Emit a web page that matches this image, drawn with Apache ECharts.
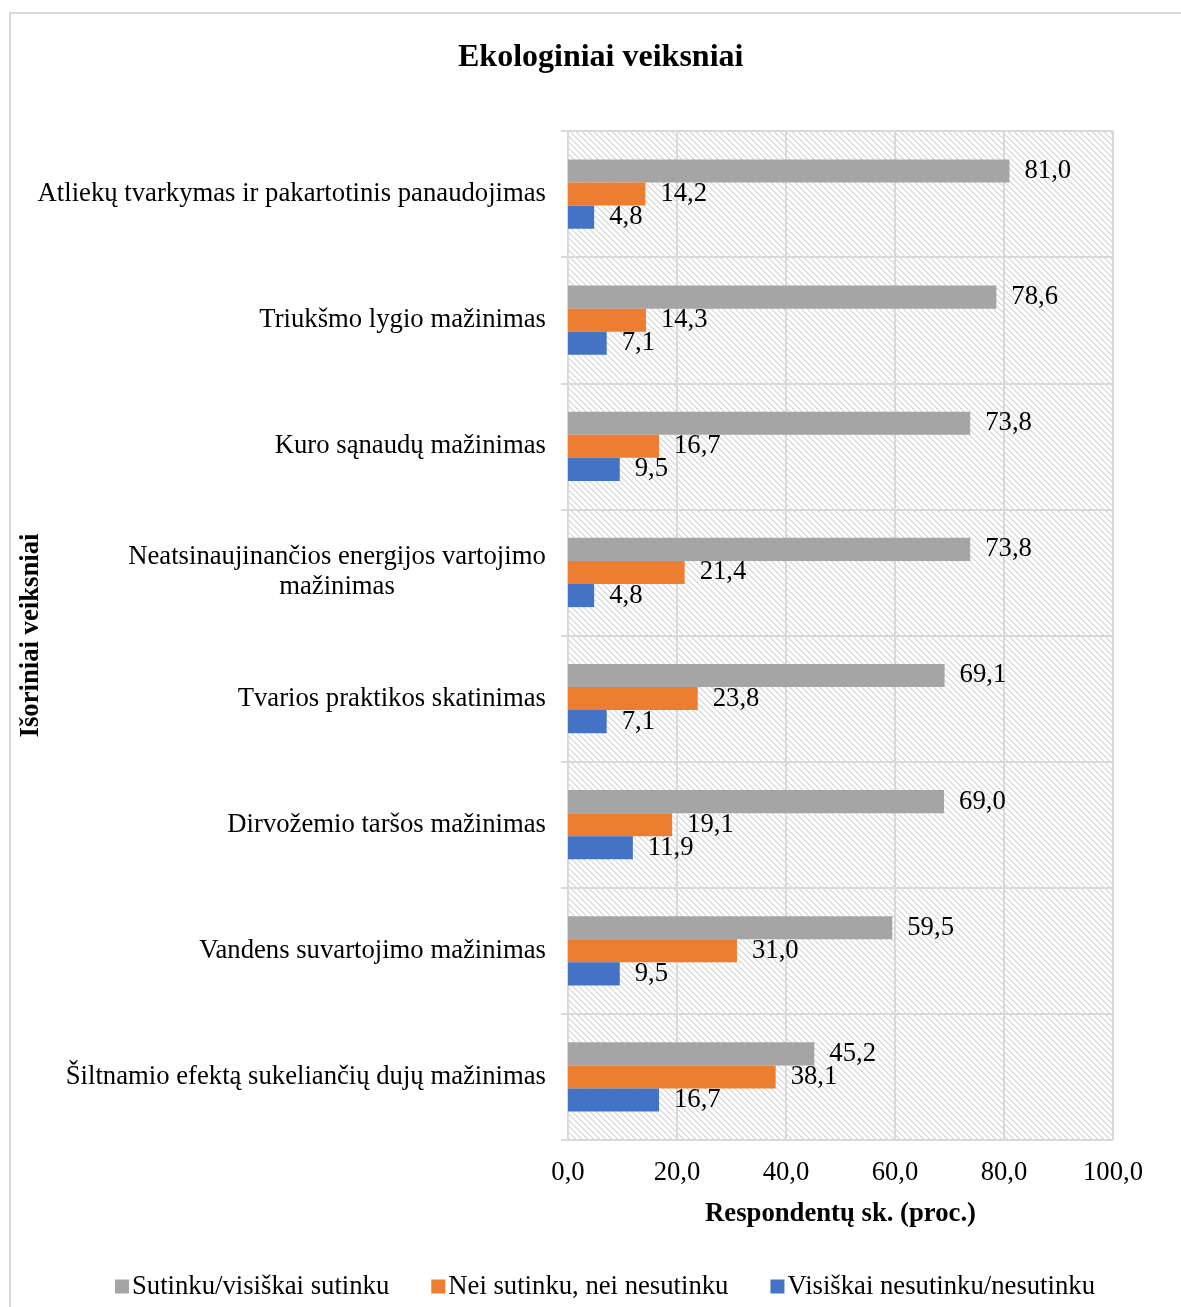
<!DOCTYPE html>
<html>
<head>
<meta charset="utf-8">
<script src="https://cdn.jsdelivr.net/npm/echarts@6/dist/echarts.min.js"></script>
<style>
  html, body { margin: 0; padding: 0; background: #fff; }
  #chart { width: 1181px; height: 1307px; }
</style>
</head>
<body>
<div id="chart"></div>
<script>
// Categories, top to bottom
const categories = [
  'Atliekų tvarkymas ir pakartotinis panaudojimas',
  'Triukšmo lygio mažinimas',
  'Kuro sąnaudų mažinimas',
  'Neatsinaujinančios energijos vartojimo\nmažinimas',
  'Tvarios praktikos skatinimas',
  'Dirvožemio taršos mažinimas',
  'Vandens suvartojimo mažinimas',
  'Šiltnamio efektą sukeliančių dujų mažinimas'
];
const seriesNames = [
  'Sutinku/visiškai sutinku',
  'Nei sutinku, nei nesutinku',
  'Visiškai nesutinku/nesutinku'
];
const agree = [81.0, 78.6, 73.8, 73.8, 69.1, 69.0, 59.5, 45.2];
const neutral = [14.2, 14.3, 16.7, 21.4, 23.8, 19.1, 31.0, 38.1];
const disagree = [4.8, 7.1, 9.5, 4.8, 7.1, 11.9, 9.5, 16.7];
const xTicks = [0, 20, 40, 60, 80, 100];

const colors = ['#A5A5A5', '#ED7D31', '#4472C4'];
const FONT = '"Liberation Serif", "Times New Roman", serif';
const FS = 26.7;
const fmt = v => Number(v).toFixed(1).replace('.', ',');

// Light dotted diagonal hatch for the plot area
function hatch() {
  const n = 6;
  const c = document.createElement('canvas');
  c.width = n; c.height = n;
  const g = c.getContext('2d');
  g.fillStyle = '#ffffff';
  g.fillRect(0, 0, n, n);
  g.fillStyle = '#dedede';
  for (let i = 0; i < n; i++) {
    g.fillRect(i % n, i, 1, 1);
    g.fillRect((i + 1) % n, i, 1, 1);
  }
  return c;
}

const chart = echarts.init(document.getElementById('chart'), null, { renderer: 'canvas' });

function makeSeries(name, data, color) {
  return {
    name: name,
    type: 'bar',
    data: data,
    barGap: 0,
    barCategoryGap: '45%',
    itemStyle: { color: color },
    label: {
      show: true,
      position: 'right',
      distance: 15,
      formatter: p => fmt(p.value),
      fontFamily: FONT,
      fontSize: FS,
      color: '#000'
    }
  };
}

chart.setOption({
  animation: false,
  graphic: [{
    type: 'rect',
    shape: { x: 10, y: 13, width: 1200, height: 1320 },
    style: { fill: 'none', stroke: '#d9d9d9', lineWidth: 2 },
    silent: true
  }],
  title: {
    text: 'Ekologiniai veiksniai',
    left: 453,
    top: 37,
    textStyle: { fontFamily: FONT, fontSize: 32, fontWeight: 'bold', color: '#000' }
  },
  legend: {
    data: seriesNames,
    bottom: 2,
    left: 110,
    itemWidth: 14,
    itemHeight: 14,
    itemGap: 42,
    icon: 'rect',
    textStyle: { fontFamily: FONT, fontSize: FS, color: '#000', padding: [0, 0, 0, -2] }
  },
  grid: {
    left: 568,
    right: 68,
    top: 131,
    bottom: 167,
    show: true,
    borderWidth: 0,
    backgroundColor: { image: hatch(), repeat: 'repeat' }
  },
  xAxis: {
    type: 'value',
    min: 0,
    max: 100,
    interval: 20,
    name: 'Respondentų sk. (proc.)',
    nameLocation: 'middle',
    nameGap: 61,
    nameTextStyle: { fontFamily: FONT, fontSize: FS, fontWeight: 'bold', color: '#000' },
    axisLine: { show: false },
    axisTick: { show: false },
    axisLabel: {
      margin: 19,
      fontFamily: FONT,
      fontSize: FS,
      color: '#000',
      formatter: v => (xTicks.indexOf(v) >= 0 ? fmt(v) : '')
    },
    splitLine: { show: true, lineStyle: { color: '#d9d9d9', width: 2 } }
  },
  yAxis: {
    type: 'category',
    data: categories,
    inverse: true,
    name: 'Išoriniai veiksniai',
    nameLocation: 'middle',
    nameGap: 523,
    nameMoveOverlap: false,
    nameTextStyle: { fontFamily: FONT, fontSize: FS, fontWeight: 'bold', color: '#000' },
    axisLine: { show: true, lineStyle: { color: '#d9d9d9', width: 2 } },
    axisTick: { show: true, length: 7, lineStyle: { color: '#d9d9d9', width: 2 } },
    axisLabel: {
      margin: 22,
      fontFamily: FONT,
      fontSize: FS,
      color: '#000',
      lineHeight: 30,
      // wrapped labels are centred line by line inside a box as wide as their longest line
      formatter: v => v.indexOf('\n') < 0 ? v : v.split('\n').map(s => '{c|' + s + '}').join('\n'),
      rich: {
        c: { fontFamily: FONT, fontSize: FS, color: '#000', width: 418, align: 'center', lineHeight: 30 }
      }
    },
    splitLine: { show: true, lineStyle: { color: '#d9d9d9', width: 2 } }
  },
  series: [
    makeSeries(seriesNames[0], agree, colors[0]),
    makeSeries(seriesNames[1], neutral, colors[1]),
    makeSeries(seriesNames[2], disagree, colors[2])
  ]
});
</script>
</body>
</html>
